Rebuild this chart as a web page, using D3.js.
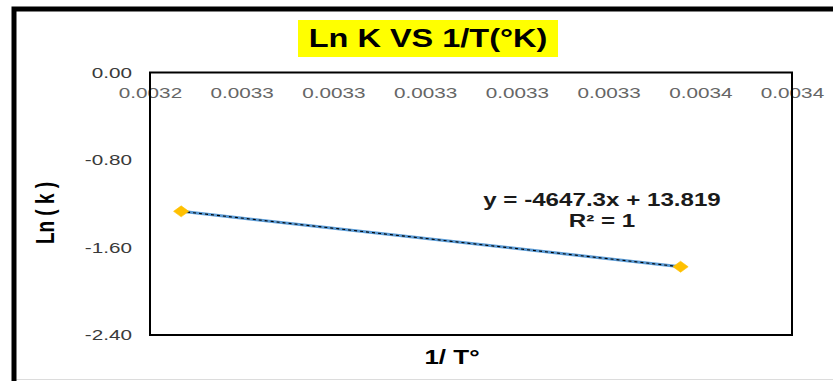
<!DOCTYPE html>
<html>
<head>
<meta charset="utf-8">
<script src="https://cdn.jsdelivr.net/npm/d3@7"></script>
<style>
  html, body { margin: 0; padding: 0; background: #fff; }
  svg { display: block; font-family: "Liberation Sans", Arial, sans-serif; }
</style>
</head>
<body>
<script>
// ---- data ----
const title = "Ln K VS 1/T(°K)";
const xTitle = "1/ T°";
const yTitle = "Ln ( k )";
const xValues = [0.0032468, 0.0033557];          // 1/T
const yValues = [-1.2696, -1.7760];              // ln k
const xTicks = [0.00324, 0.00326, 0.00328, 0.00330, 0.00332, 0.00334, 0.00336, 0.00338];
const xTickLabels = ["0.0032", "0.0033", "0.0033", "0.0033", "0.0033", "0.0033", "0.0034", "0.0034"];
const yTicks = [0, -0.8, -1.6, -2.4];
const yTickLabels = ["0.00", "-0.80", "-1.60", "-2.40"];
const equationLines = ["y = -4647.3x + 13.819", "R² = 1"];

const W = 833, H = 381;
const plot = { left: 150, right: 792, top: 72.5, bottom: 335 };
const SX = 1.38; // horizontal stretch of the original picture

const svg = d3.select("body").append("svg").attr("width", W).attr("height", H);

// outer frame
svg.append("rect").attr("x", 0).attr("y", 0).attr("width", W).attr("height", H).attr("fill", "#fff");
svg.append("line").attr("x1", 16).attr("x2", W).attr("y1", 379.5).attr("y2", 379.5)
  .attr("stroke", "#dcdcdc").attr("stroke-width", 1);
svg.append("path").attr("d", `M14,${H} L14,9 L${W},9`)
  .attr("fill", "none").attr("stroke", "#000").attr("stroke-width", 5);

const x = d3.scaleLinear().domain([xTicks[0], xTicks[xTicks.length - 1]]).range([plot.left, plot.right]);
const y = d3.scaleLinear().domain([yTicks[yTicks.length - 1], yTicks[0]]).range([plot.bottom, plot.top]);

// title
svg.append("rect").attr("x", 298).attr("y", 20).attr("width", 260).attr("height", 37).attr("fill", "#ffff00");
svg.append("text").attr("transform", `translate(428,46.5) scale(1.3,1)`)
  .attr("text-anchor", "middle").attr("font-weight", "bold").attr("font-size", 25)
  .attr("fill", "#000").text(title);

// x axis (at y = 0, labels below top border)
const xAxis = d3.axisBottom(x).tickValues(xTicks)
  .tickFormat((d, i) => xTickLabels[i]).tickSizeInner(0).tickSizeOuter(0).tickPadding(14.5);
const gx = svg.append("g").attr("transform", `translate(0,${y(0)})`).call(xAxis);
gx.select(".domain").remove();
gx.selectAll("text").attr("font-size", 15).attr("fill", "#666")
  .attr("font-family", "Liberation Sans, Arial, sans-serif")
  .attr("transform", `scale(${SX},1)`);

// y axis
const yAxis = d3.axisLeft(y).tickValues(yTicks)
  .tickFormat((d, i) => yTickLabels[i]).tickSizeInner(0).tickSizeOuter(0).tickPadding(18);
const gy = svg.append("g").attr("transform", `translate(${plot.left},0)`).call(yAxis);
gy.select(".domain").remove();
gy.selectAll("text").attr("font-size", 15).attr("fill", "#3a3a3a")
  .attr("font-family", "Liberation Sans, Arial, sans-serif")
  .attr("transform", `scale(${SX},1)`)
  .attr("x", -18 / SX);

// plot border
svg.append("rect").attr("x", plot.left).attr("y", plot.top)
  .attr("width", plot.right - plot.left).attr("height", plot.bottom - plot.top)
  .attr("fill", "none").attr("stroke", "#000").attr("stroke-width", 2);

// axis titles
svg.append("text").attr("transform", `translate(452,364) scale(1.3,1)`)
  .attr("text-anchor", "middle").attr("font-weight", "bold").attr("font-size", 20)
  .attr("fill", "#000").text(xTitle);
svg.append("text").attr("transform", `translate(54,213) scale(${SX},1) rotate(-90)`)
  .attr("text-anchor", "middle").attr("font-weight", "bold").attr("font-size", 19)
  .attr("fill", "#000").text(yTitle);

// series
const pts = xValues.map((v, i) => [v, yValues[i]]);
const line = d3.line().x(d => x(d[0])).y(d => y(d[1]));
svg.append("path").datum(pts).attr("d", line)
  .attr("fill", "none").attr("stroke", "#5b9bd5").attr("stroke-width", 3);
// linear trendline (overlays the series)
svg.append("path").datum(pts).attr("d", line)
  .attr("fill", "none").attr("stroke", "#000").attr("stroke-width", 1.1)
  .attr("stroke-dasharray", "3,3");
// markers
svg.selectAll(".mk").data(pts).enter().append("path")
  .attr("class", "mk")
  .attr("transform", d => `translate(${x(d[0])},${y(d[1])}) scale(${SX},1)`)
  .attr("d", "M0,-5.5 L5.5,0 L0,5.5 L-5.5,0 Z")
  .attr("fill", "#ffc000").attr("stroke", "#ffc000").attr("stroke-width", 0.5);

// equation label
const eqY = [205.5, 226.5];
equationLines.forEach((t, i) => {
  svg.append("text").attr("transform", `translate(602,${eqY[i]}) scale(${SX},1)`)
    .attr("text-anchor", "middle").attr("font-weight", "bold").attr("font-size", 17.5)
    .attr("fill", "#1a1a1a").text(t);
});
</script>
</body>
</html>
